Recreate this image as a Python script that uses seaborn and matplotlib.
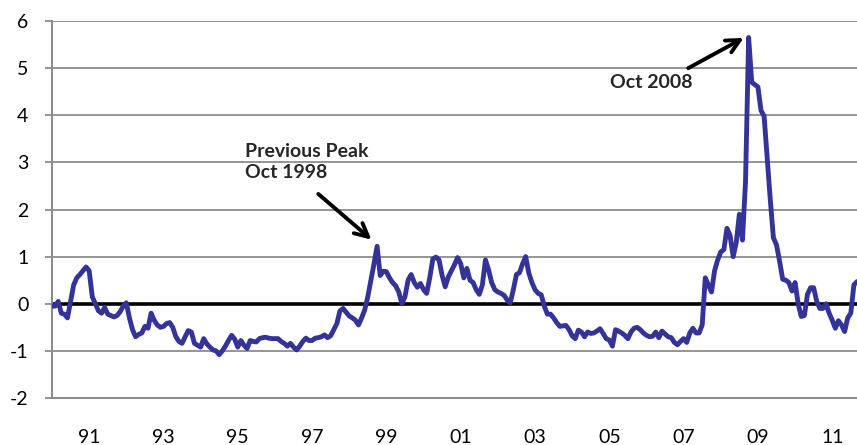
import numpy as np
import matplotlib
matplotlib.use("Agg")
import matplotlib.pyplot as plt
import seaborn as sns

# Maandelijkse waarden vanaf januari 1990 (index 0) tot september 2011
maand = np.arange(261)
waarden = [
    -0.05, -0.05, 0.05, -0.2, -0.22, -0.3, 0.05, 0.4, 0.55, 0.62, 0.7, 0.78,        # 1990
    0.7, 0.15, 0.0, -0.15, -0.2, -0.08, -0.22, -0.25, -0.28, -0.25, -0.17, -0.05,   # 1991
    0.02, -0.3, -0.55, -0.7, -0.65, -0.62, -0.48, -0.52, -0.2, -0.35, -0.45, -0.5,  # 1992
    -0.48, -0.42, -0.4, -0.5, -0.7, -0.8, -0.84, -0.7, -0.57, -0.6, -0.84, -0.88,   # 1993
    -0.92, -0.74, -0.85, -0.92, -0.98, -1.0, -1.08, -1.0, -0.9, -0.78, -0.67, -0.75,  # 1994
    -0.92, -0.78, -0.88, -0.95, -0.78, -0.8, -0.81, -0.74, -0.72, -0.71, -0.73, -0.74,  # 1995
    -0.74, -0.74, -0.8, -0.84, -0.9, -0.84, -0.92, -0.98, -0.9, -0.8, -0.73, -0.78,  # 1996
    -0.78, -0.73, -0.72, -0.7, -0.66, -0.72, -0.68, -0.55, -0.42, -0.15, -0.1, -0.18,  # 1997
    -0.26, -0.3, -0.35, -0.45, -0.3, -0.13, 0.15, 0.5, 0.85, 1.22, 0.6, 0.69,       # 1998
    0.68, 0.55, 0.45, 0.38, 0.25, 0.0, 0.15, 0.5, 0.62, 0.45, 0.35, 0.43,           # 1999
    0.3, 0.22, 0.55, 0.95, 0.99, 0.93, 0.6, 0.36, 0.57, 0.7, 0.83, 0.98,            # 2000
    0.85, 0.55, 0.75, 0.5, 0.45, 0.3, 0.2, 0.4, 0.93, 0.72, 0.45, 0.3,              # 2001
    0.25, 0.22, 0.18, 0.08, 0.02, 0.3, 0.62, 0.66, 0.85, 1.0, 0.65, 0.45,           # 2002
    0.3, 0.22, 0.19, -0.05, -0.22, -0.22, -0.3, -0.4, -0.48, -0.47, -0.46, -0.55,   # 2003
    -0.68, -0.74, -0.56, -0.6, -0.7, -0.6, -0.63, -0.62, -0.58, -0.53, -0.63, -0.74,  # 2004
    -0.77, -0.9, -0.55, -0.58, -0.62, -0.67, -0.74, -0.6, -0.52, -0.5, -0.55, -0.62,  # 2005
    -0.67, -0.7, -0.69, -0.6, -0.72, -0.58, -0.64, -0.7, -0.72, -0.82, -0.87, -0.8,   # 2006
    -0.74, -0.82, -0.62, -0.52, -0.62, -0.62, -0.45, 0.55, 0.4, 0.25, 0.7, 0.93,     # 2007
    1.1, 1.15, 1.6, 1.45, 1.0, 1.3, 1.9, 1.35, 2.6, 5.65, 4.7, 4.65,               # 2008
    4.6, 4.1, 3.98, 3.1, 2.2, 1.4, 1.25, 0.9, 0.52, 0.5, 0.45, 0.27,                # 2009
    0.45, 0.0, -0.27, -0.25, 0.2, 0.34, 0.34, 0.05, -0.1, -0.1, 0.0, -0.2,          # 2010
    -0.35, -0.52, -0.36, -0.45, -0.59, -0.3, -0.2, 0.4, 0.47,                       # 2011
]

# As-labels: om de twee jaar, geplaatst in januari
jaar_posities = [12, 36, 60, 84, 108, 132, 156, 180, 204, 228, 252]
jaar_labels = ['91', '93', '95', '97', '99', '01', '03', '05', '07', '09', '11']
y_ticks = [-2, -1, 0, 1, 2, 3, 4, 5, 6]

# Annotaties: tekst, positie van de tekst, begin en punt van de pijl (maand, waarde)
tekst_1998 = 'Previous Peak\nOct 1998'
plek_1998 = (62.3, 3.42)
pijl_1998 = ((86, 2.33), (103.2, 1.36))
tekst_2008 = 'Oct 2008'
plek_2008 = (193.5, 4.7)
pijl_2008 = ((205.5, 5.0), (223.4, 5.64))

sns.set_style("white")
plt.rcParams['font.family'] = ['Lato', 'DejaVu Sans']

fig = plt.figure(figsize=(8.57, 4.45), dpi=100)
ax = fig.add_axes([0.0607, 0.1056, 0.9393, 0.8472])

grijs = '#8c8c8c'
ax.grid(axis='y', color=grijs, linewidth=1.3)
ax.set_axisbelow(True)
ax.axhline(0, color='black', linewidth=2.6, zorder=2)

sns.lineplot(x=maand, y=waarden, color='#333399', linewidth=3.5,
             estimator=None, ax=ax, zorder=3,
             solid_capstyle='round', solid_joinstyle='round')

ax.set_xlim(0, 260)
ax.set_ylim(-2, 6)
ax.set_yticks(y_ticks)
ax.set_yticklabels([str(t) for t in y_ticks])
ax.set_xticks(jaar_posities)
ax.set_xticklabels(jaar_labels)
ax.set_xlabel('')
ax.set_ylabel('')

for kant in ['top', 'right']:
    ax.spines[kant].set_visible(False)
for kant in ['left', 'bottom']:
    ax.spines[kant].set_color(grijs)
    ax.spines[kant].set_linewidth(1.5)

ax.tick_params(axis='y', length=5, width=1.3, color=grijs, pad=12,
               labelsize=14, labelcolor='black', left=True)
ax.tick_params(axis='x', length=0, pad=22, labelsize=14, labelcolor='black')

# Teksten
ax.text(*plek_1998, tekst_1998, ha='left', va='top', fontsize=14,
        fontweight='bold', linespacing=1.35)
ax.text(*plek_2008, tekst_2008, ha='center', va='center', fontsize=14,
        fontweight='bold')

# Pijlen
for begin, punt in [pijl_1998, pijl_2008]:
    ax.annotate('', xy=punt, xytext=begin,
                arrowprops=dict(arrowstyle='->', color='black', lw=2.8,
                                mutation_scale=24, shrinkA=0, shrinkB=0))

fig.savefig('out.png', dpi=100)
